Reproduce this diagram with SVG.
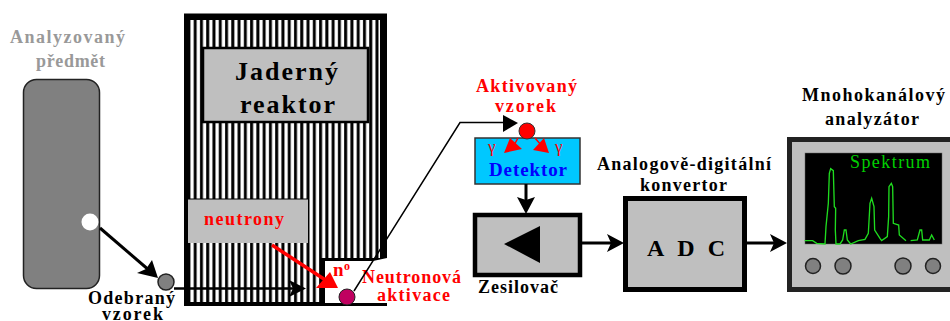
<svg xmlns="http://www.w3.org/2000/svg" width="950" height="321" viewBox="0 0 950 321">
<style>
text{font-family:"Liberation Serif","Times New Roman",serif;font-weight:bold}
.s{font-size:18px;fill:#000}
.r{fill:#f00}
.y{fill:#999}
.g{fill:#bfbfbf;stroke:#000}
.k{fill:#808080;stroke:#222;stroke-width:1.5}
.l{stroke:#000;fill:none}
</style>
<defs>
<pattern id="st" width="6.27" height="10" patternUnits="userSpaceOnUse" x="190"><rect width="6.27" height="10" fill="#000"/><rect x=".4" width="3.3" height="10" fill="#fff"/></pattern>
</defs>
<rect width="950" height="321" fill="#fff"/>
<g id="predmet">
<rect x="23.500" y="79.500" width="76" height="209" rx="13" class="k"/>
<circle cx="90" cy="222" r="8.500" fill="#fff"/>
<text x="10" y="43" class="s y" textLength="115">Analyzovaný</text>
<text x="36" y="67" class="s y" textLength="69">předmět</text>
</g>
<g id="reaktor">
<rect x="184" y="13.500" width="203" height="292.500" fill="#000"/>
<rect x="190" y="20" width="190" height="282" fill="url(#st)"/>
<rect x="320" y="251" width="67" height="52" fill="#000"/>
<rect x="320" y="251" width="60" height="7" fill="url(#st)"/>
<path d="M325 261H373L387 258V303H325Z" fill="#fff"/>
<rect x="325" y="303" width="62" height="3" fill="#000"/>
<rect x="203" y="48" width="165" height="74" stroke-width="2.500" class="g"/>
<text x="235" y="80" font-size="26" textLength="103">Jaderný</text>
<text x="240" y="113" font-size="26" textLength="95">reaktor</text>
<rect x="188" y="199" width="120" height="44" fill="#bfbfbf"/>
<path d="M188 199H308" stroke="#000"/>
<text x="204" y="225" class="s r" textLength="80">neutrony</text>
</g>
<g id="aktivace">
<circle cx="347" cy="297" r="8" fill="#c00060" stroke="#222"/>
<text x="333" y="276" font-size="19" class="r">n</text>
<text x="344" y="270" font-size="12" class="r">o</text>
<text x="362" y="283" class="s r" textLength="99">Neutronová</text>
<text x="377" y="301" class="s r" textLength="73">aktivace</text>
</g>
<g id="odebrany">
<circle cx="166" cy="282" r="8" class="k"/>
<text x="88" y="304" class="s" textLength="87">Odebraný</text>
<text x="102" y="320" class="s" textLength="61">vzorek</text>
</g>
<g id="aktivovany">
<text x="476" y="92" class="s r" textLength="101">Aktivovaný</text>
<text x="495" y="112" class="s r" textLength="61">vzorek</text>
</g>
<g id="detektor">
<rect x="475" y="138" width="105" height="46" fill="#00c8ff" stroke="#333" stroke-width="1.500"/>
<text x="489" y="176" font-size="19" fill="#00f" textLength="78">Detektor</text>
<text x="488" y="152" font-size="17" class="r" style="font-weight:normal">γ</text>
<text x="555" y="152" font-size="17" class="r" style="font-weight:normal">γ</text>
<circle cx="527" cy="131" r="8" fill="#f00" stroke="#333"/>
</g>
<g id="zesilovac">
<rect x="475" y="215" width="105" height="60" stroke-width="4.500" class="g"/>
<path d="M504 244L540 226V263Z" fill="#000"/>
<text x="478" y="293" class="s" textLength="80">Zesilovač</text>
</g>
<g id="adc">
<rect x="625.500" y="198.500" width="119" height="91" stroke-width="5" class="g"/>
<text x="647" y="256" font-size="24" textLength="78">ADC</text>
<text x="597" y="170" class="s" textLength="174">Analogově-digitální</text>
<text x="640" y="191" class="s" textLength="87">konvertor</text>
</g>
<g id="analyzator">
<rect x="789.500" y="139.500" width="170" height="150" stroke-width="5" fill="#bfbfbf" stroke="#222"/>
<rect x="805" y="153" width="137" height="91" fill="#000" stroke="#666" stroke-width=".5"/>
<path transform="translate(800 150) scale(.3333)" d="M14 272H38L50 280L75 282L78 230L85 160L88 70L92 56L100 62L103 170L107 175L106 240L108 282H120L128 270L133 240H138L142 270L152 282L175 272L195 268L205 250L210 160L215 145L222 170L224 240L240 265L245 272L262 260L266 200L267 110L274 100L278 110L280 220L296 225L298 255L318 272M332 272L352 270L360 240H365L368 270H388L395 255L403 270" fill="none" stroke="#1fdc1f" stroke-width="4"/>
<text x="850" y="168" font-size="18" fill="#00d000" style="font-weight:normal" textLength="80">Spektrum</text>
<circle cx="813" cy="266" r="7.500" class="k"/>
<circle cx="843" cy="266" r="8" class="k"/>
<circle cx="903" cy="266" r="8" class="k"/>
<circle cx="933" cy="266" r="7.500" class="k"/>
<text x="802" y="101" class="s" textLength="143">Mnohokanálový</text>
<text x="825" y="125" class="s" textLength="94">analyzátor</text>
</g>
<g id="connectors">
<path d="M100 228L150 271" stroke-width="3" class="l"/>
<path d="M158 278L137 273L146 269L152 260Z" fill="#000"/>
<path d="M174 288.500H296" stroke-width="2.500" class="l"/>
<path d="M306 288.500L289 280L293 288.500L289 297Z" fill="#000"/>
<path d="M272 245L330 283" stroke="#f00" stroke-width="3.500" fill="none"/>
<path d="M316 288H338L330 272Z" fill="#f00"/>
<path d="M354 291L460 122.500H505" stroke-width="1.500" class="l"/>
<path d="M503 115L518 123L503 132Z" fill="#000"/>
<path d="M518 138L513 147M535 138L541 145" stroke="#f00" stroke-width="1.500" fill="none"/>
<path d="M504 153L522 149L510 138Z M533 150L549 153L544 138Z" fill="#f00"/>
<path d="M526 184V205" stroke-width="3" class="l"/>
<path d="M526 214L517 197L526 200L535 197Z" fill="#000"/>
<path d="M582 243H615" stroke-width="3" class="l"/>
<path d="M624 243L607 234L611 243L607 252Z" fill="#000"/>
<path d="M747 243H778" stroke-width="3" class="l"/>
<path d="M787 243L770 234L774 243L770 252Z" fill="#000"/>
</g>
</svg>
